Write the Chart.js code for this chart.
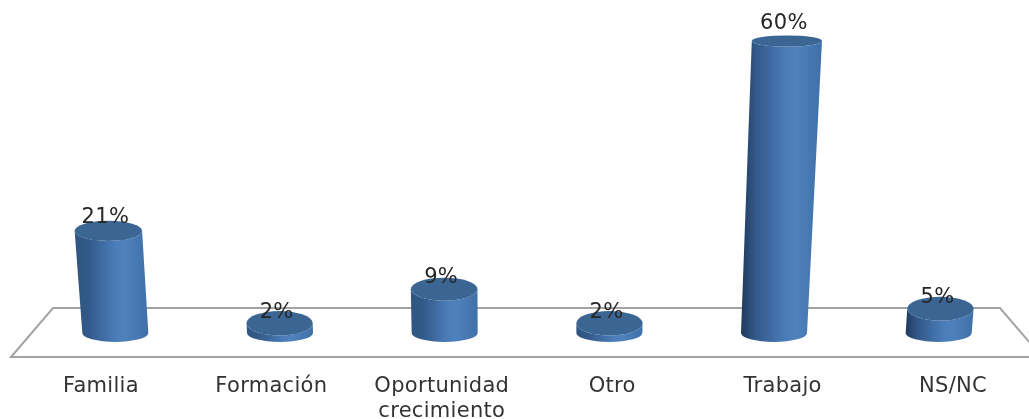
<!DOCTYPE html>
<html>
<head>
<meta charset="utf-8">
<style>html,body{margin:0;padding:0;background:#fff;overflow:hidden}canvas{display:block}</style>
<script src="https://cdn.jsdelivr.net/npm/chart.js@4/dist/chart.umd.min.js"></script>
</head>
<body>
<canvas id="c" width="1029" height="419"></canvas>
<script>
const categories = ['Familia', 'Formación', ['Oportunidad', 'crecimiento'], 'Otro', 'Trabajo', 'NS/NC'];
const percentages = [21, 2, 9, 2, 60, 5];

function bodyGradient(ctx, x0, x1, dark) {
  const g = ctx.createLinearGradient(x0, 0, x1, 0);
  g.addColorStop(0, dark);
  g.addColorStop(0.18, '#33598a');
  g.addColorStop(0.55, '#4a7cb8');
  g.addColorStop(0.68, '#4f81bd');
  g.addColorStop(1, '#3f70a8');
  return g;
}

const floorPlugin = {
  id: 'floor',
  beforeDatasetsDraw(chart) {
    const { ctx, chartArea: a } = chart;
    const back = a.bottom - 25, front = a.bottom + 24;
    ctx.save();
    ctx.strokeStyle = '#a3a3a3';
    ctx.lineWidth = 2;
    ctx.beginPath();
    ctx.moveTo(a.right + 21, front);
    ctx.lineTo(a.left - 22, front);
    ctx.lineTo(a.left + 20, back);
    ctx.lineTo(a.right - 21, back);
    ctx.lineTo(a.right + 21, front);
    ctx.stroke();
    ctx.restore();
  }
};

const cylinderPlugin = {
  id: 'cylinder',
  beforeDatasetDraw(chart, args) {
    const { ctx } = chart;
    const cx = 515;
    args.meta.data.forEach((el, i) => {
      const v = percentages[i];
      const bw = el.width / 2;
      const tw = bw + v * 0.035;
      const tx = el.x + (el.x - cx) * v * 8.3e-4;
      const rb = 9;
      const rt = 12.5 - 0.115 * v;
      const dark = el.x > 700 ? '#1f3a5c' : '#30557f';
      ctx.save();
      ctx.beginPath();
      ctx.moveTo(tx - tw, el.y);
      ctx.lineTo(el.x - bw, el.base);
      ctx.ellipse(el.x, el.base, bw, rb, 0, Math.PI, 0, true);
      ctx.lineTo(tx + tw, el.y);
      ctx.ellipse(tx, el.y, tw, rt, 0, 0, Math.PI, false);
      ctx.closePath();
      ctx.fillStyle = bodyGradient(ctx, Math.min(tx - tw, el.x - bw), Math.max(tx + tw, el.x + bw), dark);
      ctx.fill();
      ctx.beginPath();
      ctx.ellipse(tx, el.y, tw, rt, 0, 0, Math.PI * 2);
      ctx.fillStyle = '#3b6593';
      ctx.fill();
      ctx.restore();
    });
    return false;
  },
  afterDatasetsDraw(chart) {
    const { ctx } = chart;
    const cx = 515;
    const meta = chart.getDatasetMeta(0);
    ctx.save();
    ctx.font = '21px "DejaVu Sans"';
    ctx.fillStyle = '#262626';
    ctx.textAlign = 'center';
    ctx.textBaseline = 'middle';
    meta.data.forEach((el, i) => {
      const v = percentages[i];
      const tx = el.x + (el.x - cx) * v * 8.3e-4;
      ctx.fillText(v + '%', tx - 3, el.y - 11 - v * 0.1);
    });
    ctx.restore();
  }
};

// The category labels fan out slightly wider than the bars, as in a 3-D perspective view.
const tickPlugin = {
  id: 'tickSpread',
  beforeDraw(chart) {
    chart.ctx.letterSpacing = '0.3px';
    const scale = chart.scales.x;
    scale.getLabelItems(chart.chartArea).forEach(item => {
      const t = item.options.translation;
      if (!item.spread) {
        t[0] = 527 + (t[0] - 527) * 1.035;
        item.spread = true;
      }
    });
  }
};

new Chart(document.getElementById('c'), {
  type: 'bar',
  data: {
    labels: categories,
    datasets: [{ data: percentages, backgroundColor: '#4f81bd', barThickness: 66 }]
  },
  options: {
    responsive: false,
    animation: false,
    layout: { padding: { top: 41, left: 33, right: 8, bottom: 0 } },
    plugins: { legend: { display: false }, tooltip: { enabled: false } },
    scales: {
      x: {
        grid: { display: false },
        border: { display: false },
        afterFit(scale) { scale.height = 86; },
        ticks: {
          autoSkip: false,
          maxRotation: 0,
          padding: 33,
          color: '#333333',
          font: { family: '"DejaVu Sans"', size: 21, lineHeight: 1.2 }
        }
      },
      y: { display: false, min: 0, max: 60 }
    }
  },
  plugins: [tickPlugin, floorPlugin, cylinderPlugin]
});
</script>
</body>
</html>
